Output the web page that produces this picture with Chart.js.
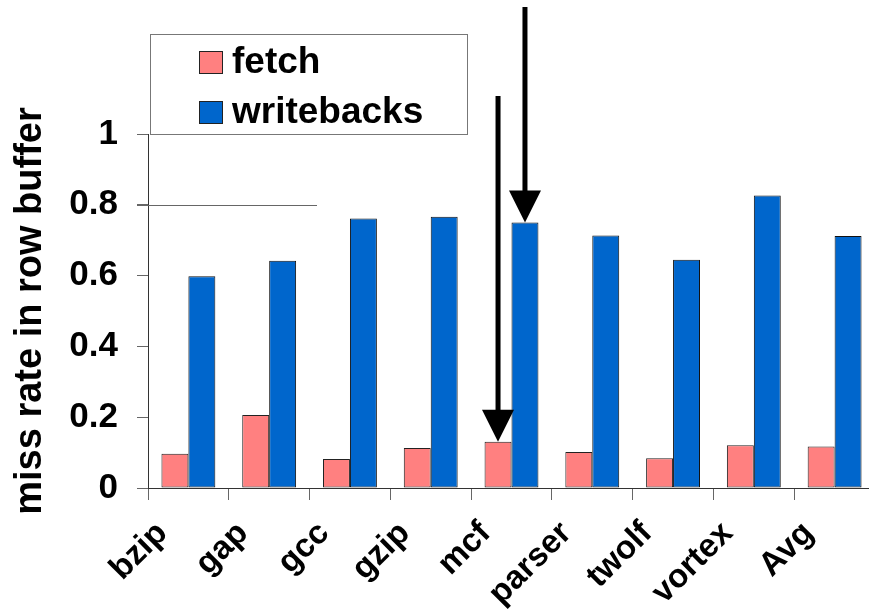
<!DOCTYPE html>
<html>
<head>
<meta charset="utf-8">
<script src="https://cdn.jsdelivr.net/npm/chart.js@4/dist/chart.umd.min.js"></script>
<style>
  html, body { margin: 0; padding: 0; background: #fff; overflow: hidden; }
  #wrap { width: 885px; height: 614px; }
</style>
</head>
<body>
<div id="wrap"><canvas id="missChart" width="885" height="614"></canvas></div>
<script>
const categories = ["bzip", "gap", "gcc", "gzip", "mcf", "parser", "twolf", "vortex", "Avg"];
const fetchRate = [0.097, 0.206, 0.082, 0.113, 0.131, 0.102, 0.084, 0.121, 0.117];
const writebackRate = [0.598, 0.642, 0.761, 0.766, 0.75, 0.713, 0.645, 0.826, 0.712];
const yTicks = [0, 0.2, 0.4, 0.6, 0.8, 1];

const FONT = "'Liberation Sans', Arial, sans-serif";
const ctx = document.getElementById("missChart").getContext("2d");

// legend box in the upper left, drawn by hand
const boxLegend = {
  id: "boxLegend",
  afterDraw(chart) {
    const c = chart.ctx;
    c.save();
    c.strokeStyle = "#777";
    c.lineWidth = 1;
    c.strokeRect(150.5, 34.5, 317, 100);
    c.font = "bold 37px " + FONT;
    c.textBaseline = "middle";
    chart.data.datasets.forEach((ds, i) => {
      const y = 51 + i * 50;
      c.fillStyle = ds.backgroundColor;
      c.fillRect(199, y, 24, 23);
      c.strokeStyle = "#222";
      c.strokeRect(199.5, y + 0.5, 23, 22);
      c.fillStyle = "#000";
      c.fillText(ds.label, 232, y + 12);
    });
    c.restore();
  }
};

// the two arrows pointing at mcf, plus the stray line at 0.8
const marks = {
  id: "marks",
  afterDatasetsDraw(chart) {
    const c = chart.ctx;
    const yS = chart.scales.y;
    c.save();
    c.strokeStyle = "#666";
    c.lineWidth = 1;
    c.beginPath();
    c.moveTo(137, Math.round(yS.getPixelForValue(0.8)) + 0.5);
    c.lineTo(317, Math.round(yS.getPixelForValue(0.8)) + 0.5);
    c.stroke();

    const idx = categories.indexOf("mcf");
    const arrows = [
      { bar: chart.getDatasetMeta(0).data[idx], top: 96 },
      { bar: chart.getDatasetMeta(1).data[idx], top: 7 }
    ];
    c.fillStyle = "#000";
    arrows.forEach(a => {
      const x = a.bar.x, tip = a.bar.y;
      c.fillRect(x - 2.5, a.top, 5, tip - 32 - a.top + 1);
      c.beginPath();
      c.moveTo(x - 16, tip - 32);
      c.lineTo(x + 16, tip - 32);
      c.lineTo(x, tip);
      c.closePath();
      c.fill();
    });
    c.restore();
  }
};

new Chart(ctx, {
  type: "bar",
  data: {
    labels: categories,
    datasets: [
      {
        label: "fetch",
        data: fetchRate,
        backgroundColor: "#FF8080",
        borderColor: "#222",
        borderWidth: 1,
        borderSkipped: false,
        categoryPercentage: 0.667,
        barPercentage: 1
      },
      {
        label: "writebacks",
        data: writebackRate,
        backgroundColor: "#0066CC",
        borderColor: "#111",
        borderWidth: 1,
        borderSkipped: false,
        categoryPercentage: 0.667,
        barPercentage: 1
      }
    ]
  },
  options: {
    responsive: false,
    animation: false,
    layout: { padding: { top: 134, right: 10, left: 0, bottom: 0 } },
    plugins: {
      legend: { display: false },
      tooltip: { enabled: false }
    },
    scales: {
      x: {
        afterFit(scale) { scale.height = 126; },
        grid: { drawOnChartArea: false, tickLength: 12, color: "#666", offset: true },
        border: { color: "#333", width: 1 },
        ticks: {
          color: "#000",
          font: { family: FONT, size: 33, weight: "bold" },
          maxRotation: 45,
          minRotation: 45,
          labelOffset: -26,
          padding: 14
        }
      },
      y: {
        min: 0,
        max: 1,
        afterFit(scale) { scale.width = 148; },
        afterBuildTicks(scale) { scale.ticks = yTicks.map(v => ({ value: v })); },
        grid: { drawOnChartArea: false, tickLength: 11, color: "#666" },
        border: { color: "#333", width: 1 },
        ticks: {
          color: "#000",
          padding: 19,
          font: { family: FONT, size: 35, weight: "bold" },
          callback: v => String(v)
        },
        title: {
          display: true,
          text: "miss rate in row buffer",
          color: "#000",
          font: { family: FONT, size: 38, weight: "bold" },
          padding: { top: 8, bottom: 0 }
        }
      }
    }
  },
  plugins: [boxLegend, marks]
});
</script>
</body>
</html>
